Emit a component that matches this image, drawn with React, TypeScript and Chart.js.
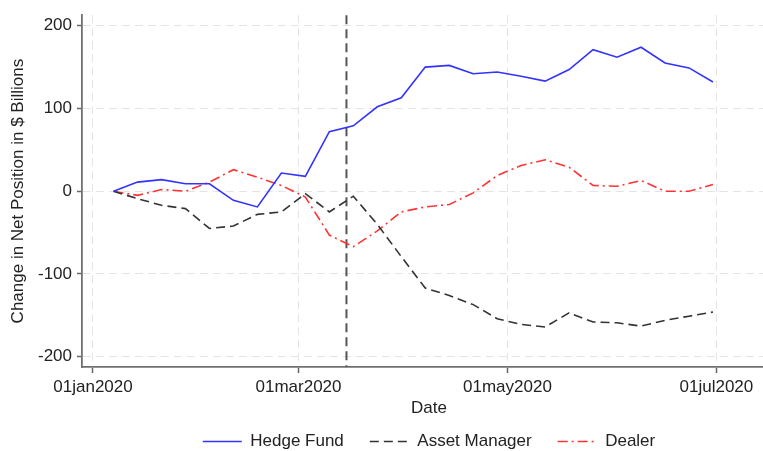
import React, { useEffect, useRef } from "react";
import { Chart, registerables } from "chart.js";

Chart.register(...registerables);

// Weekly observation dates (Tuesdays)
const dates: string[] = [
  "2020-01-07", "2020-01-14", "2020-01-21", "2020-01-28",
  "2020-02-04", "2020-02-11", "2020-02-18", "2020-02-25",
  "2020-03-03", "2020-03-10", "2020-03-17", "2020-03-24", "2020-03-31",
  "2020-04-07", "2020-04-14", "2020-04-21", "2020-04-28",
  "2020-05-05", "2020-05-12", "2020-05-19", "2020-05-26",
  "2020-06-02", "2020-06-09", "2020-06-16", "2020-06-23", "2020-06-30",
];

const hedgeFund: number[] = [
  0, 11, 14, 9, 9, -11, -19, 22, 18, 72, 79, 102, 113,
  150, 152, 142, 144, 139, 133, 147, 171, 162, 174, 155, 149, 132,
];

const assetManager: number[] = [
  0, -9, -17, -21, -45, -42, -28, -25, -3, -25, -6, -40, -79,
  -117, -126, -137, -154, -161, -164, -147, -158, -159, -163, -156, -151, -146,
];

const dealer: number[] = [
  0, -5, 2, 0, 11, 26, 17, 7, -7, -53, -67, -48, -25,
  -19, -16, -2, 19, 31, 38, 29, 7, 6, 13, 0, 0, 8,
];

const xTickDates: string[] = ["2020-01-01", "2020-03-01", "2020-05-01", "2020-07-01"];
const xTickLabels: string[] = ["01jan2020", "01mar2020", "01may2020", "01jul2020"];
const yTicks: number[] = [200, 100, 0, -100, -200];
const eventDate = "2020-03-15";

const DAY0 = Date.UTC(2020, 0, 1);
const toDay = (s: string) => {
  const [y, m, d] = s.split("-").map(Number);
  return Math.round((Date.UTC(y, m - 1, d) - DAY0) / 86400000);
};

const FONT = "'Liberation Sans', Arial, sans-serif";
const FS = 17;

export default function App() {
  const ref = useRef<HTMLCanvasElement | null>(null);

  useEffect(() => {
    if (!ref.current) return;
    const xDays = dates.map(toDay);
    const tickDays = xTickDates.map(toDay);
    const labelMap: Record<number, string> = {};
    tickDays.forEach((d, i) => (labelMap[d] = xTickLabels[i]));
    const mk = (vals: number[]) => vals.map((v, i) => ({ x: xDays[i], y: v }));

    const vline = {
      id: "vline",
      beforeDatasetsDraw(chart: any) {
        const { ctx, chartArea, scales } = chart;
        const x = scales.x.getPixelForValue(toDay(eventDate));
        ctx.save();
        ctx.strokeStyle = "#555555";
        ctx.lineWidth = 2;
        ctx.setLineDash([9, 5]);
        ctx.beginPath();
        ctx.moveTo(x, chartArea.top);
        ctx.lineTo(x, chartArea.bottom);
        ctx.stroke();
        ctx.restore();
      },
    };

    const gridCommon = {
      color: "#e4e4e4",
      lineWidth: 1,
      drawTicks: true,
      tickColor: "#666666",
      tickWidth: 1.5,
      tickBorderDash: [],
    };

    const chart = new Chart(ref.current, {
      type: "line",
      data: {
        datasets: [
          {
            label: "Hedge Fund",
            data: mk(hedgeFund),
            borderColor: "#3333ff",
            backgroundColor: "#3333ff",
            borderWidth: 1.6,
            pointRadius: 0,
            tension: 0,
          },
          {
            label: "Asset Manager",
            data: mk(assetManager),
            borderColor: "#333333",
            backgroundColor: "#333333",
            borderWidth: 1.6,
            borderDash: [9, 5],
            pointRadius: 0,
            tension: 0,
          },
          {
            label: "Dealer",
            data: mk(dealer),
            borderColor: "#ff3333",
            backgroundColor: "#ff3333",
            borderWidth: 1.6,
            borderDash: [10, 4, 2, 4],
            pointRadius: 0,
            tension: 0,
          },
        ],
      },
      options: {
        animation: false,
        responsive: false,
        devicePixelRatio: 1,
        layout: { padding: { top: 15, left: 0, right: 0, bottom: 0 } },
        plugins: {
          tooltip: { enabled: false },
          legend: {
            position: "bottom",
            fullSize: false,
            labels: {
              usePointStyle: true,
              pointStyle: "line",
              pointStyleWidth: 39,
              boxWidth: 39,
              padding: 26,
              color: "#222222",
              font: { family: FONT, size: FS },
              generateLabels: (ch: any) => {
                const items = (Chart.defaults.plugins.legend.labels as any).generateLabels(ch);
                return items.map((it: any) => {
                  const ds = ch.data.datasets[it.datasetIndex];
                  return {
                    ...it,
                    pointStyle: "line",
                    strokeStyle: ds.borderColor,
                    lineWidth: ds.borderWidth,
                    lineDash: ds.borderDash || [],
                  };
                });
              },
            },
          },
        },
        scales: {
          x: {
            type: "linear",
            min: -3.21,
            max: 199.4,
            afterBuildTicks: (scale: any) => {
              scale.ticks = tickDays.map((v) => ({ value: v }));
            },
            afterFit: (scale: any) => {
              scale.height = 40;
            },
            ticks: {
              autoSkip: false,
              maxRotation: 0,
              padding: 4,
              color: "#222222",
              font: { family: FONT, size: FS },
              callback: (v: any) => labelMap[Number(v)] ?? "",
            },
            grid: { ...gridCommon, tickLength: 6 } as any,
            border: { display: true, color: "#707070", width: 1.8, dash: [8, 5] },
            title: {
              display: true,
              text: "Date",
              color: "#222222",
              font: { family: FONT, size: FS },
              padding: { top: 0, bottom: -12 },
            },
          },
          y: {
            type: "linear",
            min: -212.4,
            max: 212.7,
            afterBuildTicks: (scale: any) => {
              scale.ticks = yTicks.map((v) => ({ value: v }));
            },
            afterFit: (scale: any) => {
              scale.width = 82;
            },
            ticks: {
              padding: 5,
              color: "#222222",
              font: { family: FONT, size: FS },
            },
            grid: { ...gridCommon, tickLength: 5 } as any,
            border: { display: true, color: "#707070", width: 1.8, dash: [8, 5] },
            title: {
              display: true,
              text: "Change in Net Position in $ Billions",
              color: "#222222",
              font: { family: FONT, size: FS },
              padding: { top: 8, bottom: 0 },
            },
          },
        },
      },
      plugins: [vline],
    } as any);

    return () => chart.destroy();
  }, []);

  return (
    <div
      style={{
        position: "fixed",
        left: 0,
        top: 0,
        width: 763,
        height: 451,
        overflow: "hidden",
        background: "#ffffff",
      }}
    >
      <canvas ref={ref} width={776} height={460} style={{ display: "block" }} />
    </div>
  );
}
